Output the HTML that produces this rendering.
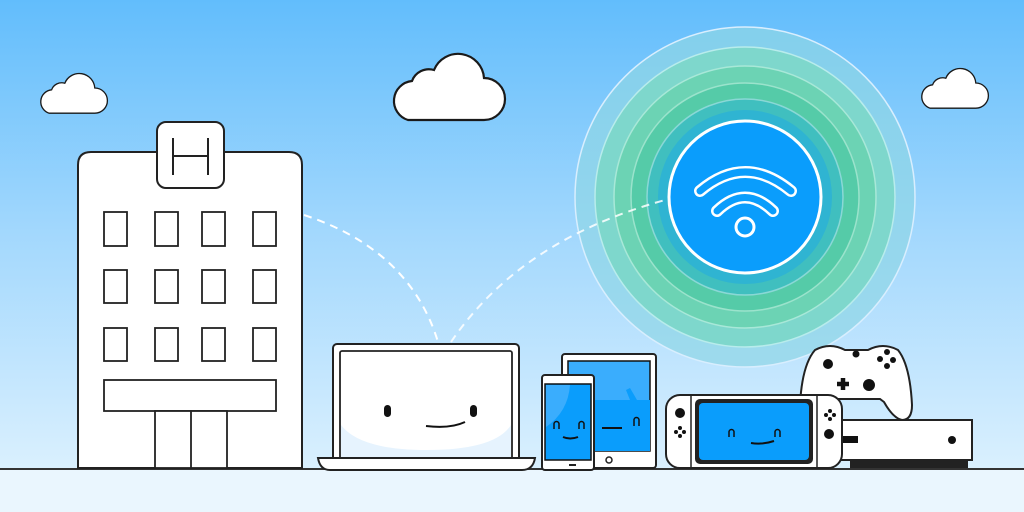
<!DOCTYPE html>
<html><head><meta charset="utf-8"><style>html,body{margin:0;padding:0;overflow:hidden}svg{display:block}</style></head>
<body>
<svg width="1024" height="512" viewBox="0 0 1024 512" xmlns="http://www.w3.org/2000/svg">
<defs>
<linearGradient id="sky" x1="0" y1="0" x2="0" y2="1">
<stop offset="0" stop-color="#62bdfc"/><stop offset="0.5" stop-color="#a3d8fd"/><stop offset="1" stop-color="#daf0fe"/>
</linearGradient>
<path id="cloud" d="M22 72 H98 A21 21 0 0 0 98 30 A26 26 0 0 0 48 22 A18 18 0 0 0 26 33 A20 20 0 0 0 22 72 Z" fill="#fff" stroke="#1a1a1a" stroke-width="2.2"/>
</defs>
<rect width="1024" height="470" fill="url(#sky)"/>
<rect y="469" width="1024" height="43" fill="#eaf6fe"/>
<line x1="0" y1="469" x2="1024" y2="469" stroke="#333" stroke-width="2"/>
<g transform="translate(386,48)"><use href="#cloud"/></g>
<g transform="translate(36,70) scale(0.6)"><use href="#cloud" stroke-width="3.5"/></g>
<g transform="translate(917,65) scale(0.6)"><use href="#cloud" stroke-width="3.5"/></g>
<g>
<circle cx="745" cy="197" r="170" fill="#8fd6e6" opacity="0.7"/>
<circle cx="745" cy="197" r="170" fill="none" stroke="#d8eefe" stroke-width="1.5"/>
<circle cx="745" cy="197" r="150" fill="#7ed7cc"/>
<circle cx="745" cy="197" r="150" fill="none" stroke="#b8ecec" stroke-width="1.5"/>
<circle cx="745" cy="197" r="131" fill="#6cd3b4"/>
<circle cx="745" cy="197" r="131" fill="none" stroke="#a8e8d8" stroke-width="1.5"/>
<circle cx="745" cy="197" r="114" fill="#55cba8"/>
<circle cx="745" cy="197" r="114" fill="none" stroke="#9be3cc" stroke-width="1.5"/>
<circle cx="745" cy="197" r="98" fill="#40bfbf"/>
<circle cx="745" cy="197" r="98" fill="none" stroke="#8ad8d6" stroke-width="1.5"/>
<circle cx="745" cy="197" r="87" fill="#2fb4d2"/>
<circle cx="745" cy="197" r="76" fill="#0a9dfc" stroke="#fff" stroke-width="3"/>
<path d="M700 191 Q745 153 791 191" fill="none" stroke="#fff" stroke-width="12" stroke-linecap="round"/>
<path d="M700 191 Q745 153 791 191" fill="none" stroke="#0a9dfc" stroke-width="7" stroke-linecap="round"/>
<path d="M717 211 Q745 184 773 211" fill="none" stroke="#fff" stroke-width="12" stroke-linecap="round"/>
<path d="M717 211 Q745 184 773 211" fill="none" stroke="#0a9dfc" stroke-width="7" stroke-linecap="round"/>
<circle cx="745" cy="227" r="9" fill="none" stroke="#fff" stroke-width="3"/>
</g>
<path d="M304 215 Q410 250 438 342" fill="none" stroke="#fff" stroke-width="2" stroke-dasharray="8 6"/>
<path d="M451 342 Q520 240 665 200" fill="none" stroke="#fff" stroke-width="2" stroke-dasharray="8 6" opacity="0.85"/>
<g fill="#fff" stroke="#222" stroke-width="2">
<path d="M78 468 V165 Q78 152 91 152 H289 Q302 152 302 165 V468 Z"/>
<rect x="157" y="122" width="67" height="66" rx="9"/>
<g stroke-width="1.8">
<rect x="104" y="212" width="23" height="34"/><rect x="155" y="212" width="23" height="34"/><rect x="202" y="212" width="23" height="34"/><rect x="253" y="212" width="23" height="34"/>
<rect x="104" y="270" width="23" height="33"/><rect x="155" y="270" width="23" height="33"/><rect x="202" y="270" width="23" height="33"/><rect x="253" y="270" width="23" height="33"/>
<rect x="104" y="328" width="23" height="33"/><rect x="155" y="328" width="23" height="33"/><rect x="202" y="328" width="23" height="33"/><rect x="253" y="328" width="23" height="33"/>
<rect x="104" y="380" width="172" height="31"/>
<rect x="155" y="411" width="72" height="57"/>
<line x1="191" y1="411" x2="191" y2="468"/>
</g>
</g>
<path d="M173 138 V175 M208 138 V175 M173 156 H208" fill="none" stroke="#222" stroke-width="2"/>
<rect x="333" y="344" width="186" height="120" rx="4" fill="#fff" stroke="#222" stroke-width="2"/>
<rect x="340" y="351" width="172" height="113" rx="2" fill="#fff" stroke="#222" stroke-width="1.8"/>
<path d="M341 425 Q360 450 427 450 Q495 450 511 425 V463 H341 Z" fill="#e6f3fe"/>
<path d="M318 458 H535 Q533 470 522 470 H330 Q320 470 318 458 Z" fill="#fff" stroke="#222" stroke-width="2"/>
<rect x="384" y="405" width="7" height="12" rx="3.5" fill="#111"/>
<rect x="470" y="405" width="7" height="12" rx="3.5" fill="#111"/>
<path d="M426 426 Q450 429 465 422" fill="none" stroke="#111" stroke-width="2"/>
<rect x="562" y="354" width="94" height="114" rx="3" fill="#fff" stroke="#222" stroke-width="2"/>
<rect x="568" y="361" width="82" height="90" fill="#3aadfd" stroke="#111" stroke-width="1.5"/>
<path d="M568 400 H630 L626 390 L630 388 L637 400 H650 V451 H568 Z" fill="#0a9dfc"/>
<circle cx="609" cy="460" r="3" fill="none" stroke="#222" stroke-width="1.5"/>
<path d="M602 428 H622" stroke="#111" stroke-width="2"/>
<path d="M634 426 V420 A2.5 2.5 0 0 1 639 420 V426" fill="none" stroke="#111" stroke-width="1.5"/>
<rect x="542" y="375" width="52" height="95" rx="3" fill="#fff" stroke="#222" stroke-width="2"/>
<rect x="545" y="384" width="46" height="76" fill="#0a9dfc" stroke="#111" stroke-width="1.5"/>
<path d="M546 427 V385 H570 Q568 412 546 427 Z" fill="#3aadfd"/>
<path d="M569 465 H576" stroke="#222" stroke-width="2"/>
<path d="M554 429 V424 A2.5 2.5 0 0 1 559 424 V429 M579 429 V424 A2.5 2.5 0 0 1 584 424 V429" fill="none" stroke="#111" stroke-width="1.5"/>
<path d="M563 437 Q570 440 578 437" fill="none" stroke="#111" stroke-width="2"/>
<path d="M815 350 Q830 342 845 350 H868 Q883 342 898 350 Q910 365 912 405 Q912 420 902 420 Q893 418 884 402 L880 399 H835 L830 402 Q820 418 810 420 Q800 420 800 405 Q802 365 815 350 Z" fill="#fff" stroke="#222" stroke-width="2"/>
<rect x="838" y="420" width="134" height="40" fill="#fff" stroke="#222" stroke-width="2"/>
<rect x="850" y="460" width="118" height="8" fill="#222"/>
<rect x="842" y="436" width="16" height="7" fill="#111"/>
<circle cx="952" cy="440" r="4" fill="#111"/>
<circle cx="828" cy="364" r="5" fill="#111"/><circle cx="856" cy="354" r="3.5" fill="#111"/>
<circle cx="869" cy="385" r="6" fill="#111"/>
<circle cx="880" cy="359" r="3" fill="#111"/><circle cx="887" cy="352" r="3" fill="#111"/><circle cx="893" cy="360" r="3" fill="#111"/><circle cx="887" cy="366" r="3" fill="#111"/>
<path d="M843 378 V390 M837 384 H849" stroke="#111" stroke-width="4.5"/>
<rect x="666" y="395" width="176" height="73" rx="14" fill="#fff" stroke="#222" stroke-width="2"/>
<line x1="691" y1="395" x2="691" y2="468" stroke="#222" stroke-width="1.5"/>
<line x1="817" y1="395" x2="817" y2="468" stroke="#222" stroke-width="1.5"/>
<rect x="695" y="399" width="118" height="65" rx="5" fill="#222"/>
<rect x="699" y="403" width="110" height="57" rx="4" fill="#0a9dfc"/>
<circle cx="680" cy="413" r="5" fill="#111"/>
<circle cx="680" cy="428" r="2" fill="#111"/><circle cx="676" cy="432" r="2" fill="#111"/><circle cx="684" cy="432" r="2" fill="#111"/><circle cx="680" cy="436" r="2" fill="#111"/>
<circle cx="830" cy="411" r="2" fill="#111"/><circle cx="826" cy="415" r="2" fill="#111"/><circle cx="834" cy="415" r="2" fill="#111"/><circle cx="830" cy="419" r="2" fill="#111"/>
<circle cx="829" cy="434" r="5" fill="#111"/>
<path d="M729 437 V432 A2.5 2.5 0 0 1 734 432 V437 M775 437 V432 A2.5 2.5 0 0 1 780 432 V437" fill="none" stroke="#111" stroke-width="1.5"/>
<path d="M751 443 Q762 445 774 441" fill="none" stroke="#111" stroke-width="2"/>
</svg>
</body></html>
